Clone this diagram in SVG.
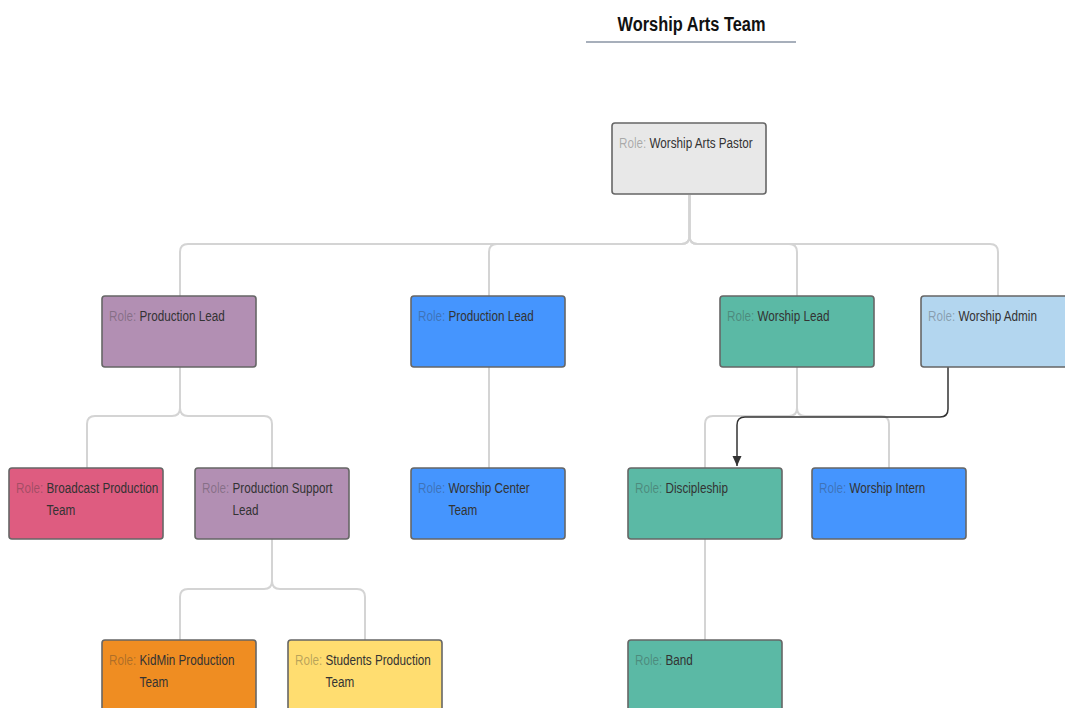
<svg xmlns="http://www.w3.org/2000/svg" width="1065" height="708" viewBox="0 0 1065 708">
<style>
.bg{fill:#ffffff}
.node{stroke:#666666;stroke-width:1.6}
.conn{fill:none;stroke:#d4d4d4;stroke-width:2}
.arrow{fill:none;stroke:#333333;stroke-width:1.5}
.lbl{font-family:"Liberation Sans",Arial,sans-serif;font-size:15px;fill:#333333}
.role{fill:#333333;fill-opacity:0.35}
.title{font-family:"Liberation Sans",Arial,sans-serif;font-size:21px;font-weight:bold;fill:#111111}
</style>
<defs>
<marker id="ah" viewBox="0 0 10 10" refX="10" refY="5" markerWidth="10" markerHeight="10" markerUnits="userSpaceOnUse" orient="auto">
<path d="M0 0.5 L10 5 L0 9.5 Z" fill="#333333"/>
</marker>
</defs>
<rect class="bg" x="0" y="0" width="1065" height="708"/>
<g id="title">
<text class="title" text-anchor="middle" transform="translate(691.5,31) scale(0.78 1)">Worship Arts Team</text>
<line x1="586" y1="42" x2="796" y2="42" stroke="#a7afbb" stroke-width="2"/>
</g>
<g id="connectors">
<path class="conn" d="M689.5 195 V236 Q689.5 244 681.5 244 H188 Q180 244 180 252 V296"/>
<path class="conn" d="M689.5 195 V236 Q689.5 244 681.5 244 H497 Q489 244 489 252 V296"/>
<path class="conn" d="M689.5 195 V236 Q689.5 244 697.5 244 H789 Q797 244 797 252 V296"/>
<path class="conn" d="M689.5 195 V236 Q689.5 244 697.5 244 H990 Q998 244 998 252 V296"/>
<path class="conn" d="M180 367 V408 Q180 416 172 416 H95 Q87 416 87 424 V468"/>
<path class="conn" d="M180 367 V408 Q180 416 188 416 H264 Q272 416 272 424 V468"/>
<path class="conn" d="M489 367 V468"/>
<path class="conn" d="M797 367 V408 Q797 416 789 416 H713 Q705 416 705 424 V468"/>
<path class="conn" d="M797 367 V408 Q797 416 805 416 H881 Q889 416 889 424 V468"/>
<path class="conn" d="M272 539 V581 Q272 589 264 589 H188 Q180 589 180 597 V640"/>
<path class="conn" d="M272 539 V581 Q272 589 280 589 H357 Q365 589 365 597 V640"/>
<path class="conn" d="M705 539 V640"/>
<path class="arrow" d="M948 367 V409 Q948 417 940 417 H745 Q737 417 737 425 V466" marker-end="url(#ah)"/>
</g>
<g id="n-pastor">
<rect class="node" x="612" y="123" width="154" height="71" rx="3" fill="#e8e8e8"/>
<text class="lbl" transform="translate(619,148) scale(0.78 1)"><tspan class="role">Role: </tspan>Worship Arts Pastor</text>
</g>
<g id="n-prodlead1">
<rect class="node" x="102" y="296" width="154" height="71" rx="3" fill="#b28fb3"/>
<text class="lbl" transform="translate(109,321) scale(0.78 1)"><tspan class="role">Role: </tspan>Production Lead</text>
</g>
<g id="n-prodlead2">
<rect class="node" x="411" y="296" width="154" height="71" rx="3" fill="#4595fe"/>
<text class="lbl" transform="translate(418,321) scale(0.78 1)"><tspan class="role">Role: </tspan>Production Lead</text>
</g>
<g id="n-worshiplead">
<rect class="node" x="720" y="296" width="154" height="71" rx="3" fill="#5bb9a5"/>
<text class="lbl" transform="translate(727,321) scale(0.78 1)"><tspan class="role">Role: </tspan>Worship Lead</text>
</g>
<g id="n-worshipadmin">
<rect class="node" x="921" y="296" width="154" height="71" rx="3" fill="#b3d6ef"/>
<text class="lbl" transform="translate(928,321) scale(0.78 1)"><tspan class="role">Role: </tspan>Worship Admin</text>
</g>
<g id="n-broadcast">
<rect class="node" x="9" y="468" width="154" height="71" rx="3" fill="#de5c80"/>
<text class="lbl" transform="translate(16,493) scale(0.78 1)"><tspan class="role">Role: </tspan>Broadcast Production<tspan x="39.2" dy="22">Team</tspan></text>
</g>
<g id="n-prodsupport">
<rect class="node" x="195" y="468" width="154" height="71" rx="3" fill="#b28fb3"/>
<text class="lbl" transform="translate(202,493) scale(0.78 1)"><tspan class="role">Role: </tspan>Production Support<tspan x="39.2" dy="22">Lead</tspan></text>
</g>
<g id="n-worshipcenter">
<rect class="node" x="411" y="468" width="154" height="71" rx="3" fill="#4595fe"/>
<text class="lbl" transform="translate(418,493) scale(0.78 1)"><tspan class="role">Role: </tspan>Worship Center<tspan x="39.2" dy="22">Team</tspan></text>
</g>
<g id="n-discipleship">
<rect class="node" x="628" y="468" width="154" height="71" rx="3" fill="#5bb9a5"/>
<text class="lbl" transform="translate(635,493) scale(0.78 1)"><tspan class="role">Role: </tspan>Discipleship</text>
</g>
<g id="n-intern">
<rect class="node" x="812" y="468" width="154" height="71" rx="3" fill="#4595fe"/>
<text class="lbl" transform="translate(819,493) scale(0.78 1)"><tspan class="role">Role: </tspan>Worship Intern</text>
</g>
<g id="n-kidmin">
<rect class="node" x="102" y="640" width="154" height="71" rx="3" fill="#ef8d22"/>
<text class="lbl" transform="translate(109,665) scale(0.78 1)"><tspan class="role">Role: </tspan>KidMin Production<tspan x="39.2" dy="22">Team</tspan></text>
</g>
<g id="n-students">
<rect class="node" x="288" y="640" width="154" height="71" rx="3" fill="#ffdd70"/>
<text class="lbl" transform="translate(295,665) scale(0.78 1)"><tspan class="role">Role: </tspan>Students Production<tspan x="39.2" dy="22">Team</tspan></text>
</g>
<g id="n-band">
<rect class="node" x="628" y="640" width="154" height="71" rx="3" fill="#5bb9a5"/>
<text class="lbl" transform="translate(635,665) scale(0.78 1)"><tspan class="role">Role: </tspan>Band</text>
</g>
</svg>
